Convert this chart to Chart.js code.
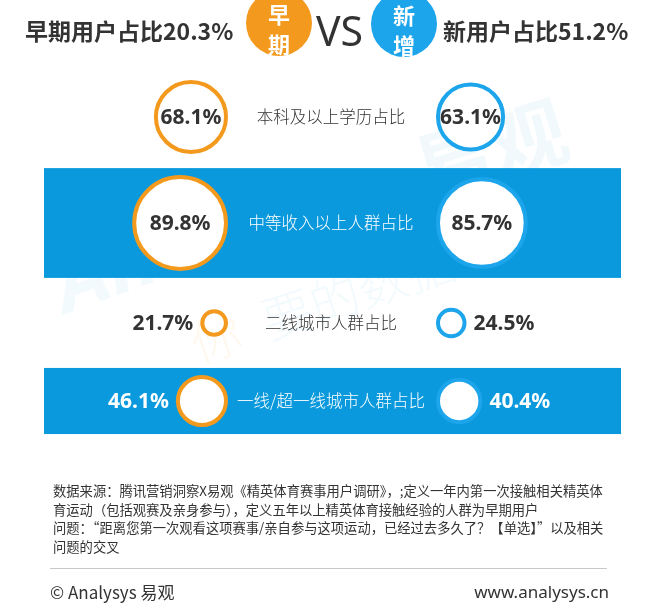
<!DOCTYPE html>
<html><head><meta charset="utf-8">
<script src="https://cdn.jsdelivr.net/npm/chart.js@4/dist/chart.umd.min.js"></script>
<style>
html,body{margin:0;padding:0;background:#fff;}
#wrap{position:relative;width:664px;height:607px;overflow:hidden;font-family:"Noto Sans CJK SC","Noto Sans",sans-serif;color:#333;}
#cv{position:absolute;left:0;top:0;width:664px;height:607px;}
.abs{position:absolute;white-space:nowrap;}
.badge{position:absolute;width:66px;height:66px;border-radius:50%;color:#fff;font-weight:700;font-size:22px;line-height:30px;text-align:center;padding-top:8px;box-sizing:border-box;}
</style></head>
<body>
<div id="wrap">
<canvas id="cv" width="664" height="607"></canvas>
<div id="title0" class="abs" style="left:25px;top:14px;height:32px;line-height:32px;font-size:23px;font-weight:700;color:#333;"></div>
<div id="badge0" class="badge" style="left:246px;top:-10px;background:#F39A1E;"></div>
<div class="abs" style="left:316px;top:6px;height:48px;line-height:48px;font-family:'Noto Sans',sans-serif;font-size:41px;font-weight:400;color:#333;">VS</div>
<div id="badge1" class="badge" style="left:371px;top:-9px;background:#1DA5EC;"></div>
<div id="title1" class="abs" style="left:443px;top:14px;height:32px;line-height:32px;font-size:23px;font-weight:700;color:#333;"></div>
<div id="notes" class="abs" style="left:53px;top:482px;font-size:13.3px;line-height:18.7px;color:#333;"></div>
<div class="abs" style="left:50px;top:568px;width:557px;height:1px;background:#c8c8c8;"></div>
<div class="abs" style="left:50px;top:580px;height:24px;line-height:24px;font-size:17px;color:#333;">© Analysys 易观</div>
<div class="abs" style="right:55px;top:580px;height:24px;line-height:24px;font-size:17px;color:#333;font-family:'Noto Sans',sans-serif;">www.analysys.cn</div>
</div>
<script>
// ---- data ----
const rowLabels = ['本科及以上学历占比','中等收入以上人群占比','二线城市人群占比','一线/超一线城市人群占比'];
const earlyValues = [68.1, 89.8, 21.7, 46.1];
const newValues = [63.1, 85.7, 24.5, 40.4];
const groupLabels = ['早期用户占比','新用户占比'];
const groupShares = [20.3, 51.2];
const badgeLabels = [['早','期'],['新','增']];
const noteLines = [
  '数据来源：腾讯营销洞察X易观《精英体育赛事用户调研》，;定义一年内第一次接触相关精英体',
  '育运动（包括观赛及亲身参与），定义五年以上精英体育接触经验的人群为早期用户',
  '问题：“距离您第一次观看这项赛事/亲自参与这项运动，已经过去多久了？【单选】”以及相关',
  '问题的交叉'
];

// ---- layout (not data) ----
const W = 664, H = 607;
const rowY = [117, 223, 323, 401];       // vertical centre of each row, in y-scale units (px)
const bandRows = [1, 3];                 // rows drawn on a blue band
const ORANGE = '#F39A1E', BLUE = '#1DA5EC', BAND = '#0A99DD';
const BORDER = 4;
const radiusOf = v => v * 0.5 + 1;
const GAP = 106;
// Chart.js insets the chart area by the largest bubble (radius + border); compensate so 1 unit = 1 px
const PAD = Math.max(...earlyValues.concat(newValues).map(radiusOf)) + BORDER;

document.getElementById('title0').textContent = groupLabels[0] + groupShares[0] + '%';
document.getElementById('title1').textContent = groupLabels[1] + groupShares[1] + '%';
document.getElementById('badge0').innerHTML = badgeLabels[0].join('<br>');
document.getElementById('badge1').innerHTML = badgeLabels[1].join('<br>');
document.getElementById('notes').innerHTML = noteLines.join('<br>');

function pts(vals, side){
  return vals.map((v,i)=>({x: side*(GAP + radiusOf(v)), y: rowY[i], r: radiusOf(v), v: v}));
}

const bandPlugin = {
  id:'bands',
  beforeDatasetsDraw(chart){
    const {ctx, scales:{x,y}} = chart;
    ctx.save();
    // watermark (very faint)
    ctx.fillStyle = 'rgba(20,150,220,0.06)';
    ctx.save(); ctx.translate(490,150); ctx.rotate(-0.3);
    ctx.font = '700 78px "Noto Sans CJK SC"'; ctx.textAlign='center'; ctx.textBaseline='middle';
    ctx.fillText('易观',0,0); ctx.restore();
    ctx.save(); ctx.translate(130,265); ctx.rotate(-0.35);
    ctx.font = 'italic 700 84px "Noto Sans"'; ctx.textAlign='center'; ctx.textBaseline='middle';
    ctx.fillStyle = 'rgba(20,150,220,0.05)';
    ctx.fillText('Ana',0,0); ctx.restore();
    ctx.save(); ctx.translate(330,300); ctx.rotate(-0.32);
    ctx.font = '300 50px "Noto Sans CJK SC"'; ctx.textAlign='center'; ctx.textBaseline='middle';
    ctx.fillStyle = 'rgba(243,154,30,0.07)'; ctx.fillText('你',-120,0);
    ctx.fillStyle = 'rgba(20,150,220,0.05)'; ctx.fillText('要的数据',30,0);
    ctx.restore();
    // bands
    ctx.fillStyle = BAND;
    const left = x.getPixelForValue(-288), right = x.getPixelForValue(289);
    bandRows.forEach(i=>{
      const half = Math.max(radiusOf(earlyValues[i]), radiusOf(newValues[i])) + 9;
      const top = y.getPixelForValue(rowY[i]-half), bot = y.getPixelForValue(rowY[i]+half);
      ctx.fillRect(left, Math.min(top,bot), right-left, Math.abs(bot-top));
    });
    ctx.restore();
  },
  afterDatasetsDraw(chart){
    const {ctx, scales:{x,y}} = chart;
    ctx.save();
    ctx.textBaseline = 'middle';
    rowLabels.forEach((lab,i)=>{
      const onBand = bandRows.includes(i);
      ctx.font = '300 16.5px "Noto Sans CJK SC"';
      ctx.fillStyle = onBand ? '#fff' : '#333';
      ctx.textAlign = 'center';
      ctx.fillText(lab, x.getPixelForValue(-1), y.getPixelForValue(rowY[i]));
    });
    chart.data.datasets.forEach((ds,di)=>{
      const side = di===0 ? -1 : 1;
      chart.getDatasetMeta(di).data.forEach((el,i)=>{
        const d = ds.data[i];
        const onBand = bandRows.includes(i);
        const txt = d.v.toFixed(1)+'%';
        ctx.font = '700 21px "Noto Sans"';
        if (d.r >= 30){
          ctx.fillStyle = '#333'; ctx.textAlign='center';
          ctx.fillText(txt, el.x, el.y+1);
        } else {
          ctx.fillStyle = onBand ? '#fff' : '#333';
          if (side<0){ ctx.textAlign='right'; ctx.fillText(txt, el.x - d.r - 9, el.y+1); }
          else { ctx.textAlign='left'; ctx.fillText(txt, el.x + d.r + 9, el.y+1); }
        }
      });
    });
    ctx.restore();
  }
};

new Chart(document.getElementById('cv'), {
  type:'bubble',
  data:{datasets:[
    {label:groupLabels[0], data:pts(earlyValues,-1), backgroundColor:'#fff', borderColor:ORANGE, borderWidth:BORDER, hoverBorderWidth:BORDER},
    {label:groupLabels[1], data:pts(newValues,1), backgroundColor:'#fff', borderColor:BLUE, borderWidth:BORDER, hoverBorderWidth:BORDER}
  ]},
  options:{
    responsive:false, maintainAspectRatio:false, animation:false, devicePixelRatio:1,
    layout:{padding:0},
    plugins:{legend:{display:false}, tooltip:{enabled:false}},
    events:[],
    scales:{
      x:{type:'linear', min:-(W/2 - PAD), max:(W/2 - PAD), display:false},
      y:{type:'linear', min:PAD, max:H - PAD, reverse:true, display:false}
    }
  },
  plugins:[bandPlugin]
});
</script>
</body></html>
